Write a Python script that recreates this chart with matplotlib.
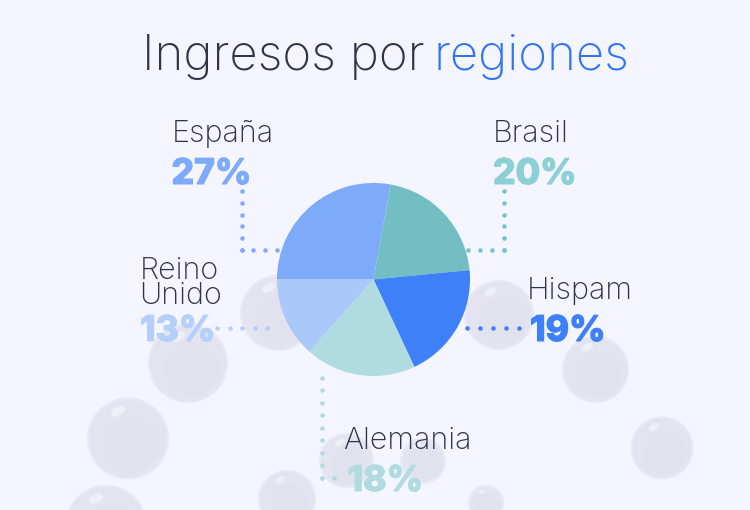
import matplotlib
matplotlib.use("Agg")
import matplotlib.pyplot as plt
import matplotlib.patheffects as pe
import numpy as np
from matplotlib.patches import Circle, Ellipse

regiones = ["España", "Brasil", "Hispam", "Alemania", "Reino\nUnido"]
porcentajes = [27, 20, 19, 18, 13]
colores = ["#7eaafa", "#72bec3", "#3e80f8", "#b0dbe0", "#abc8fa"]
colores_texto = ["#7eaafa", "#8ccfd4", "#3e80f8", "#b0dbe0", "#b4cffb"]
colores_puntos = ["#7eaafa", "#72c4c9", "#3e80f8", "#b0dbe0", "#b4cffb"]
TEXTO = "#2e3449"
AZUL = "#2f73f7"
FONDO = "#f4f5ff"
BURBUJA = "#e3e4ef"

# centro x, centro y, radio, en pixeles
burbujas = [(278, 313, 37), (188, 363, 39), (128, 438.5, 40), (106, 526, 40),
            (287, 499, 28), (346.5, 460.5, 26.5), (423, 461, 22), (486, 503, 17),
            (662, 448, 30.5), (595.5, 369.5, 32.5), (499, 315, 34)]

# x e y (linea base) del nombre, x e y del porcentaje
etiquetas = [(172, 142, 171.5, 184), (492.5, 142, 493, 184), (526.5, 299, 530, 341),
             (343, 449, 347.5, 491), (139.5, 304, 140, 341)]

# tramos de cada conector: inicio, fin, numero de puntos
conectores = [[((241.7, 191), (241.7, 250), 6), ((241.7, 250), (277, 250), 4)],
              [((504, 191), (504, 250), 6), ((504, 250), (468, 250), 4)],
              [((467, 328.3), (519, 328.3), 5)],
              [((322, 378), (322, 478), 9), ((322, 478), (333.5, 478.5), 2)],
              [((217, 328.3), (267, 328.3), 5)]]

# 5.1 * 100 se trunca a 509 px, por eso el 5.101
fig = plt.figure(figsize=(7.5, 5.101), dpi=100, facecolor=FONDO)
ax = fig.add_axes([0, 0, 1, 1])

for x, y, r in burbujas:
    ax.add_patch(Circle((x, y), r, fc=BURBUJA, ec="#e8e9f3", lw=1.5, zorder=1))
    ax.add_patch(Circle((x + r * 0.1, y + r * 0.15), r * 0.7, fc="#e1e2ed", ec="none", alpha=0.6, zorder=1.05))
    ax.add_patch(Ellipse((x - r * 0.25, y - r * 0.68), r * 0.38, r * 0.22, angle=-30,
                         fc="#eeeff7", ec="none", zorder=1.1))

# la y del eje esta invertida: counterclock=True se ve en sentido horario
ax.pie(porcentajes, colors=colores, startangle=180, counterclock=True,
       center=(373.5, 279.5), radius=96.5, frame=True,
       wedgeprops={"linewidth": 0, "zorder": 2}, normalize=True)
ax.set_xlim(0, 750)
ax.set_ylim(510, 0)
ax.axis("off")

for tramos, color in zip(conectores, colores_puntos):
    for ini, fin, n in tramos:
        ax.scatter(np.linspace(ini[0], fin[0], n), np.linspace(ini[1], fin[1], n),
                   s=10.5, color=color, linewidths=0, zorder=3)

for reg, pct, col, pos in zip(regiones, porcentajes, colores_texto, etiquetas):
    ax.text(pos[0], pos[1], reg, fontsize=22, family="Inter", fontweight="light", color=TEXTO,
            va="baseline", ha="left", linespacing=0.88, zorder=4)
    ax.text(pos[2], pos[3], f"{pct}%", fontsize=25.5, family="Inter", fontweight=800, color=col,
            va="baseline", ha="left", zorder=4,
            path_effects=[pe.withStroke(linewidth=0.8, foreground=col)])

ax.text(142, 70, "Ingresos por", fontsize=35.4, family="Inter", fontweight="light",
        color=TEXTO, va="baseline", ha="left")
ax.text(434, 70, "regiones", fontsize=35.4, family="Inter", fontweight="light",
        color=AZUL, va="baseline", ha="left")

fig.savefig("out.png", dpi=100, facecolor=FONDO)
